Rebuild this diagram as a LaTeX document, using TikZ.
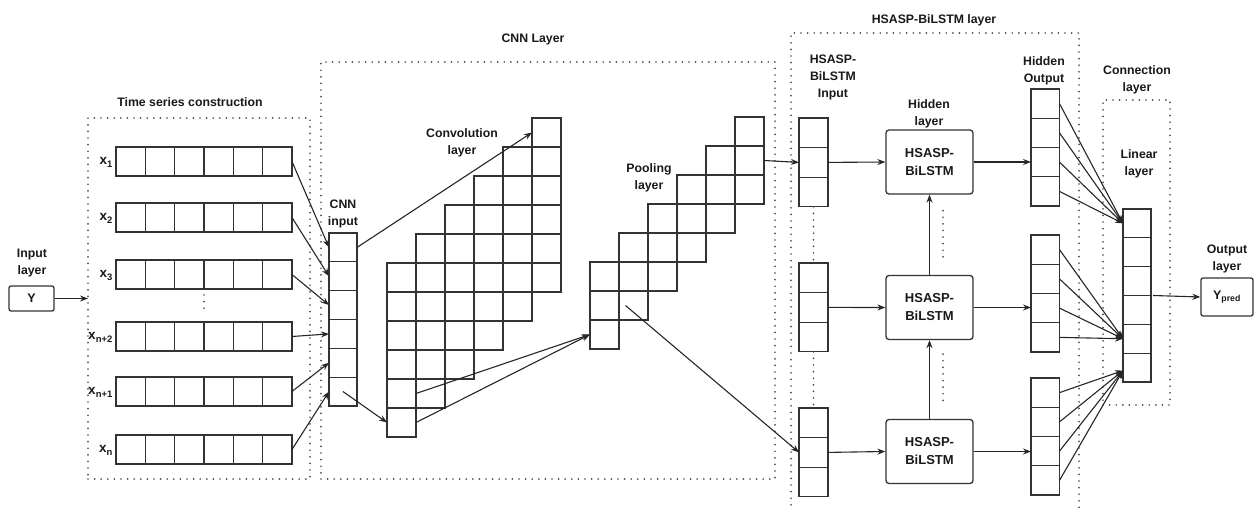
\documentclass[tikz,border=0pt]{standalone}
\usepackage{fontspec}
\setmainfont{Liberation Sans}
\usetikzlibrary{arrows.meta,calc}
\begin{document}
\begin{tikzpicture}[x=1pt,y=-1pt,
  cell/.style={draw=black!80, line width=1.2pt, minimum width=#1, inner sep=0pt, outer sep=0pt, anchor=north west},
  cell/.default=29,
  arr/.style={-{Stealth[length=8pt,width=6pt]}, line width=1.1pt, draw=black!85},
  dotline/.style={line width=1.9pt, dash pattern=on 0pt off 6.6pt, line cap=round, draw=black!70},
  dotbox/.style={dotline, minimum width=#1, inner sep=0pt, outer sep=0pt, anchor=north west},
  lbl/.style={font=\bfseries\fontsize{12.3}{17}\selectfont, text=black!90, align=center, inner sep=0pt},
  rbox/.style={draw=black!80, line width=1.3pt, rounded corners=3pt, inner sep=0pt, align=center, font=\bfseries\fontsize{13}{18}\selectfont, text=black!90}
]
\useasboundingbox (0,0) rectangle (1254,507);

% dotted group boxes
\node[dotbox=222, minimum height=361] (ts) at (88,118) {};
\node[dotbox=454, minimum height=417] (cnn) at (321,62) {};
\node[dotbox=288, minimum height=490] (hs) at (791,33) {};
\node[dotbox=67, minimum height=305] (conn) at (1103,100) {};

% group labels
\node[lbl] (tsl) at (190,102) {Time series construction};
\node[lbl] (cnnl) at (533,39) {CNN Layer};
\node[lbl] (hsl) at (934,20) {HSASP-BiLSTM layer};
\node[lbl] (connl) at (1137,80) {Connection\\layer};

% input
\node[lbl] (inl) at (32,263.5) {Input\\layer};
\node[draw=black!80, line width=1.3pt, rounded corners=2pt, minimum width=45, minimum height=25, inner sep=0pt, font=\bfseries\fontsize{12.5}{14}\selectfont, text=black!90] (Y) at (31.5,298.5) {Y};
\draw[arr] (Y.east) -- (Y.east -| ts.west);

% time series rows
\foreach \i/\yy in {1/147,2/203,3/260,4/322,5/377,6/435} {
  \foreach \j in {1,...,6} {
    \node[cell=29.33, minimum height=29] (r\i-\j) at ({116+29.33*(\j-1)},\yy) {};
  }
}
\foreach \i/\s in {1/1,2/2,3/3,4/n+2,5/n+1,6/n} {
  \node[lbl, font=\bfseries\fontsize{13.5}{15}\selectfont, anchor=east] (rl\i) at ($(r\i-1.west)+(-3,1)$) {x\textsubscript{\s}};
}
\draw[dotline, shorten <=6pt, shorten >=9pt] (r3-3.south east) -- (r4-3.north east);

% CNN input
\node[lbl] (cinl) at (343,213.5) {CNN\\input};
\foreach \k in {1,...,6} {
  \node[cell=28, minimum height=28.83] (ci\k) at (329,{233+28.83*(\k-1)}) {};
}
\foreach \i in {1,...,6} {
  \draw[arr] (r\i-6.east) -- (ci\i.west);
}

% convolution layer
\node[lbl] (convl) at (462,142.5) {Convolution\\layer};
\foreach \c in {1,...,6} {
  \foreach \m in {1,...,6} {
    \node[cell=29, minimum height=29] (cv\c-\m) at ({387+29*(\c-1)},{263-29*(\c-1)+29*(\m-1)}) {};
  }
}
\draw[arr] (ci1.east) -- (cv6-1.west);
\draw[arr] (ci6.center) -- (cv1-6.west);

% pooling layer
\node[lbl] (pooll) at (649,177.5) {Pooling\\layer};
\foreach \c in {1,...,6} {
  \foreach \m in {1,...,3} {
    \node[cell=29, minimum height=29] (pl\c-\m) at ({590+29*(\c-1)},{262-29*(\c-1)+29*(\m-1)}) {};
  }
}
\draw[arr] (cv1-5.east) -- (pl1-3.west);
\draw[arr] (cv1-6.east) -- (pl1-3.west);

% HSASP input
\node[lbl] (hinl) at (833,77) {HSASP-\\BiLSTM\\Input};
\foreach \c/\tp in {1/118,2/263,3/408} {
  \foreach \m in {1,...,3} {
    \node[cell=29, minimum height=29.6] (hi\c-\m) at (799,{\tp+29.6*(\m-1)}) {};
  }
}
\draw[dotline] (hi1-3.south) -- (hi2-1.north);
\draw[dotline] (hi2-3.south) -- (hi3-1.north);
\draw[arr] (pl6-2.east) -- (hi1-2.west);
\draw[arr] ([xshift=-8pt]pl2-3.center) -- (hi3-2.west);

% HSASP-BiLSTM boxes
\node[lbl] (hidl) at (929,113.5) {Hidden\\layer};
\node[rbox, minimum width=87, minimum height=64] (b1) at (929.5,162) {HSASP-\\BiLSTM};
\node[rbox, minimum width=87, minimum height=64] (b2) at (929.5,307.5) {HSASP-\\BiLSTM};
\node[rbox, minimum width=87, minimum height=64] (b3) at (929.5,451.5) {HSASP-\\BiLSTM};
\draw[arr] (b3.north) -- (b2.south);
\draw[arr] (b2.north) -- (b1.south);
\draw[dotline] ($(b1.south)+(13.5,16)$) -- ($(b2.north)+(13.5,-13)$);
\draw[dotline] ($(b2.south)+(13.5,14)$) -- ($(b3.north)+(13.5,-12)$);
\foreach \c in {1,2,3} {
  \draw[arr] (hi\c-2.east) -- (b\c.west);
}

% hidden output
\node[lbl] (hol) at (1044,70.5) {Hidden\\Output};
\foreach \c/\tp in {1/89,2/235,3/378} {
  \foreach \m in {1,...,4} {
    \node[cell=28.5, minimum height=29.25] (ho\c-\m) at (1031,{\tp+29.25*(\m-1)}) {};
  }
}
\foreach \c in {1,2,3} {
  \draw[arr] (b\c.east) -- (b\c.east -| ho\c-1.west);
}

% linear layer
\node[lbl] (linl) at (1139,163.5) {Linear\\layer};
\foreach \k in {1,...,6} {
  \node[cell=28, minimum height=28.83] (lin\k) at (1123,{209+28.83*(\k-1)}) {};
}
\foreach \m in {1,...,4} {
  \draw[arr] (ho1-\m.east) -- (lin1.west);
  \draw[arr] (ho2-\m.east) -- (lin5.west);
  \draw[arr] (ho3-\m.east) -- ($(lin6.west)+(0,3)$);
}

% output
\node[lbl] (outl) at (1227,258.5) {Output\\layer};
\node[draw=black!80, line width=1.3pt, rounded corners=2pt, minimum width=52, minimum height=38, inner sep=0pt, font=\bfseries\fontsize{12.5}{14}\selectfont, text=black!90] (yp) at (1227,297) {Y\textsubscript{pred}};
\draw[arr] ([xshift=2pt]lin3.south east) -- (yp.west);
\end{tikzpicture}
\end{document}
